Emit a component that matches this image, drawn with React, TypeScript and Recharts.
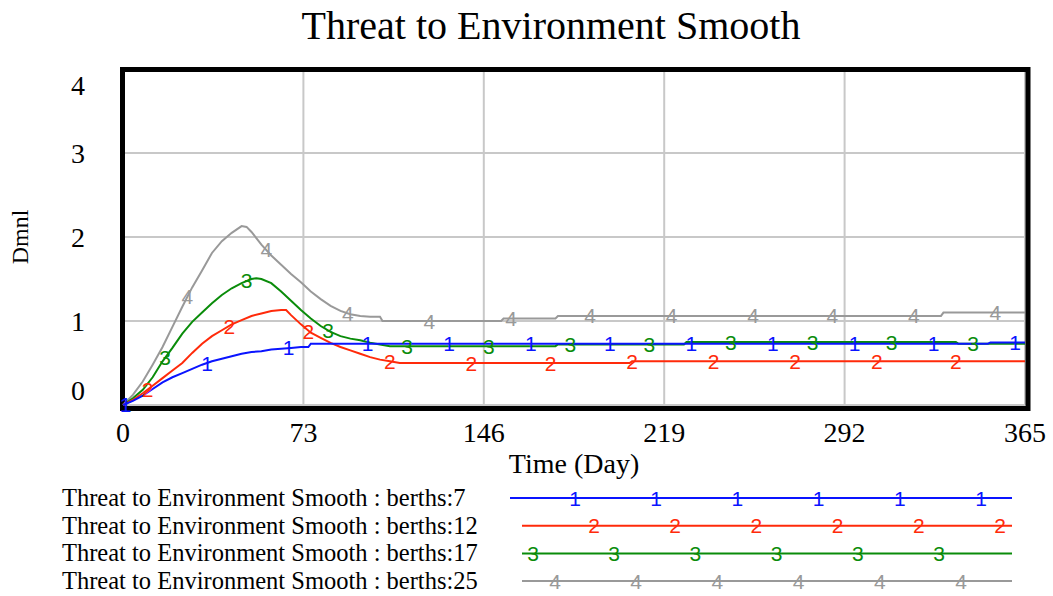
import React from "react";
import {
  CartesianGrid,
  ComposedChart,
  Line,
  ReferenceArea,
  Scatter,
  XAxis,
  YAxis,
} from "recharts";

// time (day) and values, one pair of arrays per run
const berths7T = [0, 4, 8, 12, 16, 20, 24, 28, 32, 36, 40, 44, 48, 52, 56, 60, 64, 68, 72, 75, 76, 350, 351, 365];
const berths7V = [0, 0.05, 0.11, 0.19, 0.27, 0.33, 0.38, 0.43, 0.48, 0.52, 0.55, 0.58, 0.61, 0.63, 0.64, 0.66, 0.67, 0.68, 0.69, 0.69, 0.73, 0.73, 0.745, 0.745];

const berths12T = [0, 4, 8, 12, 16, 20, 24, 28, 32, 36, 40, 44, 48, 52, 56, 60, 64, 66, 68, 72, 76, 80, 84, 88, 92, 96, 100, 104, 108, 112, 205, 206, 365];
const berths12V = [0, 0.06, 0.14, 0.23, 0.32, 0.41, 0.5, 0.62, 0.73, 0.82, 0.89, 0.96, 1.01, 1.06, 1.09, 1.12, 1.13, 1.13, 1.07, 0.96, 0.86, 0.8, 0.74, 0.69, 0.65, 0.61, 0.57, 0.54, 0.52, 0.5, 0.5, 0.52, 0.52];

const berths17T = [0, 4, 8, 12, 16, 20, 24, 28, 32, 36, 40, 44, 48, 52, 54, 56, 60, 64, 68, 72, 76, 80, 84, 88, 92, 96, 100, 104, 108, 175, 176, 227, 228, 337, 338, 365];
const berths17V = [0, 0.08, 0.18, 0.33, 0.52, 0.68, 0.85, 0.99, 1.1, 1.21, 1.31, 1.39, 1.45, 1.5, 1.51, 1.5, 1.45, 1.35, 1.24, 1.13, 1.03, 0.94, 0.87, 0.82, 0.79, 0.77, 0.74, 0.72, 0.7, 0.7, 0.72, 0.72, 0.75, 0.75, 0.73, 0.73];

const berths25T = [0, 4, 8, 12, 16, 20, 24, 28, 32, 36, 40, 44, 48, 50, 52, 56, 60, 64, 68, 72, 76, 80, 84, 88, 92, 96, 100, 104, 105, 153, 154, 175, 176, 331, 332, 365];
const berths25V = [0, 0.12, 0.28, 0.48, 0.69, 0.93, 1.17, 1.4, 1.6, 1.81, 1.95, 2.05, 2.13, 2.12, 2.06, 1.91, 1.78, 1.67, 1.56, 1.46, 1.35, 1.26, 1.18, 1.12, 1.08, 1.06, 1.05, 1.05, 1.0, 1.0, 1.03, 1.03, 1.06, 1.06, 1.1, 1.1];

// numbered run markers along each curve
const mark7T = [1, 34, 67, 99, 132, 165, 197, 230, 263, 296, 328, 361];
const mark7V = [0.01, 0.5, 0.68, 0.73, 0.73, 0.73, 0.73, 0.73, 0.73, 0.73, 0.73, 0.745];
const mark12T = [10, 43, 75, 108, 141, 173, 206, 239, 272, 305, 337];
const mark12V = [0.18, 0.94, 0.88, 0.52, 0.5, 0.5, 0.52, 0.52, 0.52, 0.52, 0.52];
const mark17T = [17, 50, 83, 115, 148, 181, 213, 246, 279, 311, 344];
const mark17V = [0.56, 1.48, 0.89, 0.7, 0.7, 0.72, 0.72, 0.75, 0.75, 0.75, 0.73];
const mark25T = [26, 58, 91, 124, 157, 189, 222, 255, 287, 320, 353];
const mark25V = [1.29, 1.85, 1.09, 1.0, 1.03, 1.06, 1.06, 1.06, 1.06, 1.06, 1.1];

const xTicks = [0, 73, 146, 219, 292, 365];
const yTicks = [0, 1, 2, 3, 4];

const zip = (ts: number[], vs: number[]) => ts.map((t, i) => ({ t, v: vs[i] }));

const series = [
  { label: "berths:7", digit: "1", color: "#0a14ff", line: zip(berths7T, berths7V), marks: zip(mark7T, mark7V), legendStart: 510, legendFirst: 575 },
  { label: "berths:12", digit: "2", color: "#ff2a0a", line: zip(berths12T, berths12V), marks: zip(mark12T, mark12V), legendStart: 522, legendFirst: 594 },
  { label: "berths:17", digit: "3", color: "#0a8c0a", line: zip(berths17T, berths17V), marks: zip(mark17T, mark17V), legendStart: 522, legendFirst: 533 },
  { label: "berths:25", digit: "4", color: "#999999", line: zip(berths25T, berths25V), marks: zip(mark25T, mark25V), legendStart: 522, legendFirst: 555 },
];

const serif = "'Liberation Serif', 'Times New Roman', serif";
const sans = "'Liberation Sans', Arial, sans-serif";

function YTick({ x, y, payload }: any) {
  const v = payload.value;
  const shift = v === 4 ? 16 : v === 0 ? -15 : 0;
  return (
    <text x={x - 45} y={y + shift + 10} textAnchor="middle" fontFamily={serif} fontSize={28} fill="#000">
      {v}
    </text>
  );
}

function XTick({ x, y, payload }: any) {
  return (
    <text x={x} y={y + 37} textAnchor="middle" fontFamily={serif} fontSize={28} fill="#000">
      {payload.value}
    </text>
  );
}

function markShape(digit: string, color: string) {
  return (p: any) => (
    <text x={p.cx} y={p.cy + 7.5} textAnchor="middle" fontFamily={sans} fontSize={21} fill={color}>
      {digit}
    </text>
  );
}

export default function App() {
  const drawOrder = [...series].reverse();
  return (
    <div style={{ position: "absolute", left: 0, top: 0, width: 1053, height: 596, background: "#fff" }}>
      <ComposedChart width={1053} height={596} margin={{ top: 69, right: 28, left: 43, bottom: 131 }}>
        <CartesianGrid stroke="#c8c8c8" strokeWidth={2} />
        <XAxis
          type="number"
          dataKey="t"
          domain={[0, 365]}
          ticks={xTicks}
          height={60}
          tickSize={0}
          tickMargin={0}
          axisLine={false}
          tickLine={false}
          tick={<XTick />}
          label={{
            content: ({ viewBox }: any) => (
              <text x={viewBox.x + viewBox.width / 2} y={viewBox.y + 68} textAnchor="middle" fontFamily={serif} fontSize={28} fill="#000">
                Time (Day)
              </text>
            ),
          }}
        />
        <YAxis
          type="number"
          domain={[0, 4]}
          ticks={yTicks}
          width={80}
          tickSize={0}
          tickMargin={0}
          axisLine={false}
          tickLine={false}
          tick={<YTick />}
          label={{
            content: ({ viewBox }: any) => (
              <text
                x={20}
                y={viewBox.y + viewBox.height / 2}
                transform={`rotate(-90 20 ${viewBox.y + viewBox.height / 2})`}
                textAnchor="middle"
                dominantBaseline="central"
                fontFamily={serif}
                fontSize={24}
                fill="#000"
              >
                Dmnl
              </text>
            ),
          }}
        />
        {drawOrder.map((s) => (
          <Line
            key={s.label}
            data={s.line}
            dataKey="v"
            type="linear"
            stroke={s.color}
            strokeWidth={2}
            dot={false}
            activeDot={false}
            isAnimationActive={false}
          />
        ))}
        {drawOrder.map((s) => (
          <Scatter
            key={"m" + s.label}
            data={s.marks}
            dataKey="v"
            shape={markShape(s.digit, s.color)}
            isAnimationActive={false}
          />
        ))}
        <ReferenceArea
          x1={0}
          x2={365}
          y1={0}
          y2={4}
          ifOverflow="visible"
          shape={(p: any) => (
            <rect x={p.x - 0.5} y={p.y + 0.5} width={p.width + 3.5} height={p.height + 3} fill="none" stroke="#000" strokeWidth={5} />
          )}
        />
      </ComposedChart>
      <svg width={1053} height={596} style={{ position: "absolute", left: 0, top: 0, pointerEvents: "none" }}>
        <text x={551} y={39} textAnchor="middle" fontFamily={serif} fontSize={40} fill="#000">
          Threat to Environment Smooth
        </text>
        {series.map((s, i) => {
          const cy = 498 + i * 27.7;
          return (
            <g key={s.label}>
              <text x={62} y={cy + 8} fontFamily={serif} fontSize={24.5} fill="#000">
                {"Threat to Environment Smooth : " + s.label}
              </text>
              <line x1={s.legendStart} x2={1012} y1={cy} y2={cy} stroke={s.color} strokeWidth={2} />
              {[0, 1, 2, 3, 4, 5].map((k) => (
                <text key={k} x={s.legendFirst + k * 81.2} y={cy + 7.5} textAnchor="middle" fontFamily={sans} fontSize={21} fill={s.color}>
                  {s.digit}
                </text>
              ))}
            </g>
          );
        })}
      </svg>
    </div>
  );
}
